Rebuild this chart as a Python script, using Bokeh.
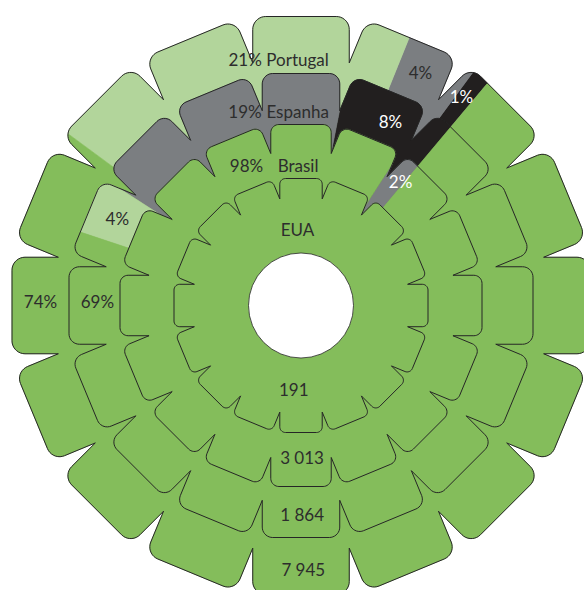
import numpy as np
from bokeh.plotting import figure
from bokeh.models import Range1d
from bokeh.core.properties import value
from bokeh.embed import file_html
from bokeh.resources import INLINE

# ---------------- data ----------------
countries = ["EUA", "Brasil", "Espanha", "Portugal"]          # inner -> outer ring
totals = ["191", "3 013", "1 864", "7 945"]
share_black = [0, 0, 8, 1]
share_gray = [0, 2, 19, 4]
share_light = [0, 0, 4, 21]
share_green = [100, 98, 69, 74]

# ---------------- styles / layout ----------------
C_BLACK = "#221f1f"
C_GRAY = "#7b7e81"
C_LIGHT = "#b2d59b"
C_GREEN = "#84bd5b"
C_LINE = "#262626"
C_TEXT = "#2d2d2d"
FONT = "Lato"
FS = "17px"

CX, CY = 300.5, 305.0
RING_R = [127, 181, 232, 289]
HOLE_R = 52.5
N_PETALS = 16
START_DEG = 50.0


def boundary(R, n=N_PETALS, hfrac=0.167, rcfrac=0.045, n_arc=10):
    h = hfrac * R
    rc = rcfrac * R
    ac = h / np.tan(np.pi / n)
    pts = []
    for i in range(n):
        th = 2 * np.pi * i / n
        loc = []
        for t in np.linspace(-np.pi / 2, 0, n_arc):
            loc.append((R - rc + rc * np.cos(t), -h + rc + rc * np.sin(t)))
        for t in np.linspace(0, np.pi / 2, n_arc):
            loc.append((R - rc + rc * np.cos(t), h - rc + rc * np.sin(t)))
        loc.append((ac, h))
        c, s = np.cos(th), np.sin(th)
        for a, l in loc:
            pts.append((a * c - l * s, a * s + l * c))
    return np.array(pts)


def ray_hit(P, a):
    u = np.array([np.cos(a), np.sin(a)])
    Q = np.roll(P, -1, axis=0)
    E = Q - P
    cu_p = u[0] * P[:, 1] - u[1] * P[:, 0]
    cu_e = u[0] * E[:, 1] - u[1] * E[:, 0]
    with np.errstate(divide="ignore", invalid="ignore"):
        t = -cu_p / cu_e
    pts = P + t[:, None] * E
    valid = (t >= 0) & (t <= 1) & ((pts @ u) > 0)
    idx = np.where(valid)[0][0]
    return pts[idx]


def wedge(P, a1, a2):
    span = (a2 - a1) % (2 * np.pi)
    if abs(a2 - a1) >= 2 * np.pi - 1e-9:
        return P
    phi = np.arctan2(P[:, 1], P[:, 0])
    rel = (phi - a1) % (2 * np.pi)
    sel = (rel > 0) & (rel < span)
    inner = P[sel][np.argsort(rel[sel])]
    pts = [np.array([0.0, 0.0]), ray_hit(P, a1)] + list(inner) + [ray_hit(P, a2)]
    return np.array(pts)


def to_screen(pts):
    return list(CX + pts[:, 0]), list(CY - pts[:, 1])


p = figure(width=584, height=590, x_range=Range1d(0, 584), y_range=Range1d(590, 0),
           output_backend="svg", toolbar_location=None, min_border=0)
p.axis.visible = False
p.grid.visible = False
p.outline_line_color = None
p.background_fill_color = "white"
p.border_fill_color = "white"

seg_colors = [C_BLACK, C_GRAY, C_LIGHT, C_GREEN]
for k in range(len(countries) - 1, -1, -1):
    P = boundary(RING_R[k])
    shares = [share_black[k], share_gray[k], share_light[k], share_green[k]]
    a = np.radians(START_DEG)
    xs, ys, fc = [], [], []
    for sh, col in zip(shares, seg_colors):
        if sh <= 0:
            continue
        a2 = a + np.radians(360.0 * sh / 100.0)
        poly = wedge(P, a, a2)
        x, y = to_screen(poly)
        xs.append(x)
        ys.append(y)
        fc.append(col)
        a = a2
    p.patches(xs=xs, ys=ys, fill_color=fc, line_color=fc, line_width=0.6)
    bx, by = to_screen(P)
    p.patch(bx, by, fill_color=None, line_color=C_LINE, line_width=1.0)

p.circle(x=[CX], y=[CY], radius=HOLE_R, fill_color="white", line_color=C_LINE, line_width=0.8)

W = "#ffffff"
labels = [
    (f"{share_light[3]}%", 102.8, 252.0, C_TEXT),
    (countries[3], 90.8, 245.7, C_TEXT),
    (f"{share_gray[2]}%", 106.1, 201.9, C_TEXT),
    (countries[2], 91.0, 194.0, C_TEXT),
    (f"{share_green[1]}%", 111.3, 150.2, C_TEXT),
    (countries[1], 91.2, 140.0, C_TEXT),
    (countries[0], 92.6, 75.8, C_TEXT),
    (totals[0], 265.1, 84.3, C_TEXT),
    (totals[1], 270.4, 151.7, C_TEXT),
    (totals[2], 270.3, 209.0, C_TEXT),
    (totals[3], 270.5, 264.0, C_TEXT),
    (f"{share_gray[3]}%", 62.9, 262.1, C_TEXT),
    (f"{share_black[3]}%", 52.5, 263.5, W),
    (f"{share_black[2]}%", 64.1, 204.9, W),
    (f"{share_gray[1]}%", 51.3, 159.2, W),
    (f"{share_light[2]}%", 154.7, 203.2, C_TEXT),
    (f"{share_green[3]}%", 179.05, 260.5, C_TEXT),
    (f"{share_green[2]}%", 178.8, 203.7, C_TEXT),
]
lx = [CX + r * np.cos(np.radians(a)) for _, a, r, _ in labels]
ly = [CY - r * np.sin(np.radians(a)) for _, a, r, _ in labels]
p.text(x=lx, y=ly, text=[t for t, _, _, _ in labels], text_color=[c for _, _, _, c in labels],
       text_font=value(FONT), text_font_size=FS, text_align="center", text_baseline="middle")

open("out.html", "w").write(file_html(p, INLINE))
